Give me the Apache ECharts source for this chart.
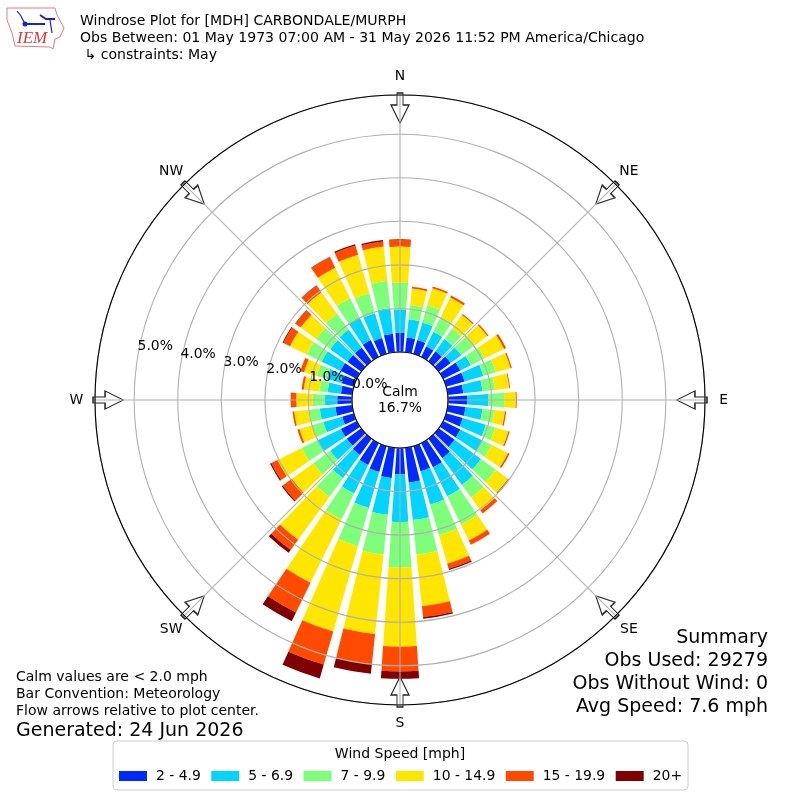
<!DOCTYPE html>
<html><head><meta charset="utf-8">
<style>html,body{margin:0;padding:0;background:#fff}#c{width:800px;height:800px}</style>
<script src="https://cdn.jsdelivr.net/npm/echarts@6/dist/echarts.min.js"></script>
</head><body><div id="c"></div>
<script>
const directions = ['0','10','20','30','40','50','60','70','80','90','100','110','120','130','140','150','160','170','180','190','200','210','220','230','240','250','260','270','280','290','300','310','320','330','340','350'];
const speed2to5 = [.44,.34,.33,.27,.28,.34,.44,.44,.36,.44,.41,.40,.44,.45,.55,.62,.60,.80,.60,.70,.62,.56,.46,.41,.41,.28,.39,.34,.26,.29,.42,.39,.39,.43,.38,.43];
const speed5to7 = [.54,.42,.42,.37,.35,.30,.27,.45,.44,.49,.39,.55,.56,.75,.76,.74,.80,.87,1.10,.85,.86,.73,.66,.47,.59,.45,.36,.28,.31,.36,.48,.49,.51,.57,.59,.59];
const speed7to10 = [.61,.33,.41,.38,.30,.35,.35,.30,.29,.36,.27,.22,.24,.42,.36,.72,.73,.80,1.04,.92,.91,.66,.53,.48,.41,.27,.24,.28,.19,.24,.38,.40,.45,.50,.48,.63];
const speed10to15 = [.83,.38,.41,.50,.38,.39,.50,.35,.33,.27,.25,.32,.42,.35,.36,.41,.68,1.19,1.82,1.83,2.04,1.62,1.22,.61,.62,.30,.35,.38,.36,.30,.43,.44,.61,.78,.92,.79];
const speed15to20 = [.17,.04,.04,.05,.03,.03,.05,.03,.02,.02,.03,.03,.04,.02,.09,.11,.12,.25,.57,.70,.79,.76,.29,.26,.16,.05,.04,.13,.05,.09,.17,.15,.19,.27,.22,.12];
const speed20up = [0,0,0,0,0,0,0,0,0,0,0,0,0,.01,0,0,.03,.04,.17,.22,.33,.22,.08,.03,.03,0,0,0,0,0,.02,.01,.01,.01,.03,.03];
const speedNames = ['2 - 4.9','5 - 6.9','7 - 9.9','10 - 14.9','15 - 19.9','20+'];
const speedColors = ['#0029ff','#00d4ff','#7dff7a','#ffe600','#ff4a00','#7f0000'];
const speedValues = [speed2to5,speed5to7,speed7to10,speed10to15,speed15to20,speed20up];
const radiusTicks = [0,1,2,3,4,5];
const compassNames = ['N','NE','E','SE','S','SW','W','NW'];
const compassAngles = [0,45,90,135,180,225,270,315];
const titleLines = ['Windrose Plot for [MDH] CARBONDALE/MURPH','Obs Between: 01 May 1973 07:00 AM - 31 May 2026 11:52 PM America/Chicago',' \u21b3 constraints: May'];
const noteLines = ['Calm values are < 2.0 mph','Bar Convention: Meteorology','Flow arrows relative to plot center.'];
const summaryLines = ['Summary','Obs Used: 29279','Obs Without Wind: 0','Avg Speed: 7.6 mph'];

const FONT = '"DejaVu Sans"';
const RMAX = 5.9;
const ARROW = 'path://M6,0 L12,0 L12,12 L18,12 L9,30 L0,12 L6,12 Z';
const txt = (x,y,text,size,opts={}) => ({type:'text',x,y,silent:true,z:20,style:Object.assign({text,fontFamily:FONT,fontSize:size,fill:'#000',verticalAlign:'middle',align:'left'},opts)});

const chart = echarts.init(document.getElementById('c'),null,{renderer:'canvas'});
const bars = speedNames.map((n,i)=>({
  name:n,type:'bar',coordinateSystem:'polar',polarIndex:0,stack:'rose',barWidth:'78.5%',
  data:speedValues[i],itemStyle:{color:speedColors[i]},z:2,silent:true,animation:false
}));
chart.setOption({
  animation:false,
  backgroundColor:'#fff',
  polar:[{center:[400,400],radius:[48,305]},{center:[400,400],radius:[48,305]}],
  angleAxis:[
    {polarIndex:0,type:'category',data:directions,startAngle:95,show:false},
    {polarIndex:1,type:'value',min:0,max:360,interval:45,startAngle:90,z:5,
      axisLine:{show:true,lineStyle:{color:'#000',width:1.1}},axisTick:{show:false},axisLabel:{show:false},
      splitLine:{show:true,lineStyle:{color:'#b0b0b0',width:1.1}}}
  ],
  radiusAxis:[
    {polarIndex:0,type:'value',min:0,max:RMAX,show:false},
    {polarIndex:1,type:'value',min:0,max:RMAX,interval:1,z:4,
      axisLine:{show:false},axisTick:{show:false},axisLabel:{show:false},
      splitLine:{show:true,lineStyle:{color:'#b0b0b0',width:1.1}}}
  ],
  legend:{
    data:speedNames,left:113,top:741,orient:'horizontal',
    padding:[28,6,7,6],itemWidth:28,itemHeight:10,itemGap:10.5,icon:'rect',
    backgroundColor:'#fff',borderColor:'#cccccc',borderWidth:1,borderRadius:4,
    textStyle:{fontFamily:FONT,fontSize:13.9,color:'#000',padding:[0,0,0,4]},selectedMode:false
  },
  series:[
    ...bars,
    {type:'scatter',coordinateSystem:'polar',polarIndex:1,clip:false,z:1,silent:true,
      data:compassAngles.map(a=>[RMAX-0.3,a]),symbol:ARROW,symbolSize:[18,30],
      symbolRotate:(v)=>-v[1],
      itemStyle:{color:'#fff',borderColor:'#222',borderWidth:1.2,opacity:1}},
    {type:'scatter',coordinateSystem:'polar',polarIndex:1,clip:false,z:10,silent:true,symbolSize:1,
      itemStyle:{color:'rgba(0,0,0,0)',opacity:1},
      data:compassAngles.map((a,i)=>({value:[6.33,a],name:compassNames[i]})),
      label:{show:true,position:'inside',formatter:'{b}',fontFamily:FONT,fontSize:13.9,color:'#000'}},
    {type:'scatter',coordinateSystem:'polar',polarIndex:1,clip:false,z:10,silent:true,symbolSize:1,
      itemStyle:{color:'rgba(0,0,0,0)',opacity:1},
      data:radiusTicks.map(r=>[r,280]),
      label:{show:true,position:'inside',offset:[17,-7],formatter:p=>p.value[0].toFixed(1)+'%',fontFamily:FONT,fontSize:13.9,color:'#000'}}
  ],
  graphic:[
    ...titleLines.map((t,i)=>txt(80,21+i*17,t,14.05,{})),
    ...noteLines.map((t,i)=>txt(16,677+i*17,t,14,{})),
    txt(16,731,'Generated: 24 Jun 2026',19,{}),
    ...summaryLines.map((t,i)=>txt(768,638+i*23,t,19,{align:'right'})),
    txt(400,392,'Calm',13.9,{align:'center'}),
    txt(400,408,'16.7%',13.9,{align:'center'}),
    txt(400,754.5,'Wind Speed [mph]',14,{align:'center'}),
    {type:'polygon',z:20,silent:true,shape:{points:[[7,8],[55,8],[57,15],[64,28],[60,37],[55,39],[53,49],[50,47],[15,46],[12,33],[7,20]]},style:{fill:'#fff',stroke:'#e8797e',lineWidth:1}},
    {type:'polyline',z:21,silent:true,shape:{points:[[25,24],[45,24]]},style:{stroke:'#1522d6',lineWidth:2,fill:'none'}},
    {type:'polyline',z:21,silent:true,shape:{points:[[17,11],[21,16],[25,24]]},style:{stroke:'#1522d6',lineWidth:1.2,fill:'none'}},
    {type:'polyline',z:21,silent:true,shape:{points:[[40,15],[46,19],[55,19]]},style:{stroke:'#1522d6',lineWidth:1.8,fill:'none'}},
    {type:'polyline',z:21,silent:true,shape:{points:[[50,20],[52,33]]},style:{stroke:'#1522d6',lineWidth:1.2,fill:'none'}},
    {type:'circle',z:21,silent:true,shape:{cx:25,cy:24,r:2.5},style:{fill:'#1522d6'}},
    {type:'text',z:21,silent:true,x:17,y:30,style:{text:'IEM',fontFamily:'"Liberation Serif"',fontStyle:'italic',fontSize:17,fill:'#d63a3a'}}
  ]
});
</script></body></html>
